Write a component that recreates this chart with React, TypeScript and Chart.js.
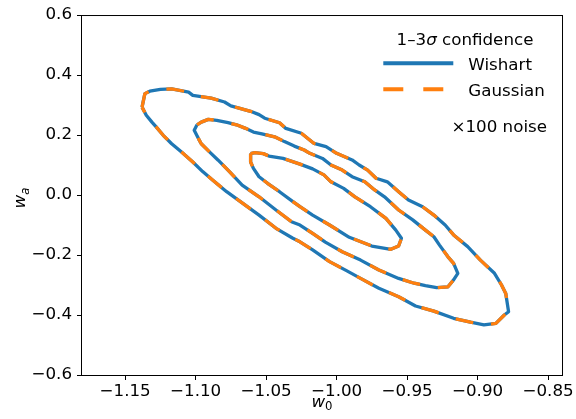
import React, { useEffect, useRef } from "react";
import { Chart, registerables } from "chart.js";

Chart.register(...registerables);

// Confidence contours in the (w0, wa) plane, traced as closed polygons.
// 1σ contour
const sigma1W0 = [-1.061, -1.058, -1.052, -1.048, -1.038, -1.026, -1.017, -1.009, -1.004, -0.995, -0.987, -0.976, -0.965, -0.958, -0.954, -0.956, -0.9615, -0.975, -0.991, -1.005, -1.017, -1.026, -1.031, -1.0405, -1.049, -1.055, -1.059, -1.061];
const sigma1Wa = [0.138, 0.141, 0.138, 0.13, 0.122, 0.103, 0.087, 0.067, 0.044, 0.022, -0.006, -0.039, -0.078, -0.117, -0.144, -0.17, -0.181, -0.17, -0.141, -0.1, -0.067, -0.039, -0.022, 0.011, 0.039, 0.061, 0.089, 0.11];

// 2σ contour
const sigma2W0 = [-1.099, -1.096, -1.091, -1.085, -1.077, -1.071, -1.065, -1.059, -1.053, -1.044, -1.037, -1.03, -1.023, -1.019, -1.01, -1.004, -0.996, -0.989, -0.98, -0.973, -0.966, -0.956, -0.946, -0.937, -0.931, -0.927, -0.921, -0.917, -0.914, -0.917, -0.921, -0.929, -0.937, -0.945, -0.956, -0.97, -0.983, -0.996, -1.008, -1.017, -1.026, -1.032, -1.043, -1.055, -1.067, -1.076, -1.084, -1.09, -1.096, -1.098, -1.101];
const sigma2Wa = [0.234, 0.243, 0.252, 0.249, 0.241, 0.234, 0.223, 0.21, 0.204, 0.194, 0.178, 0.163, 0.15, 0.139, 0.122, 0.1, 0.083, 0.061, 0.044, 0.017, -0.006, -0.05, -0.083, -0.117, -0.139, -0.167, -0.206, -0.228, -0.261, -0.283, -0.306, -0.309, -0.302, -0.294, -0.278, -0.25, -0.217, -0.189, -0.157, -0.128, -0.1, -0.089, -0.05, -0.006, 0.033, 0.078, 0.116, 0.143, 0.171, 0.188, 0.216];

// 3σ contour
const sigma3W0 = [-1.138, -1.136, -1.1325, -1.125, -1.117, -1.105, -1.102, -1.089, -1.0795, -1.075, -1.068, -1.061, -1.055, -1.051, -1.0405, -1.036, -1.025, -1.016, -1.0075, -1.0, -0.989, -0.984, -0.978, -0.972, -0.964, -0.956, -0.949, -0.939, -0.931, -0.923, -0.917, -0.907, -0.898, -0.888, -0.883, -0.88, -0.878, -0.881, -0.887, -0.8955, -0.905, -0.917, -0.931, -0.944, -0.956, -0.97, -0.983, -0.993, -1.005, -1.017, -1.026, -1.031, -1.043, -1.055, -1.0665, -1.078, -1.088, -1.095, -1.102, -1.11, -1.117, -1.123, -1.128, -1.131, -1.135];
const sigma3Wa = [0.293, 0.338, 0.346, 0.352, 0.354, 0.343, 0.332, 0.323, 0.31, 0.297, 0.288, 0.279, 0.268, 0.256, 0.241, 0.222, 0.206, 0.172, 0.161, 0.139, 0.117, 0.1, 0.083, 0.056, 0.044, 0.011, -0.017, -0.039, -0.067, -0.1, -0.133, -0.172, -0.217, -0.261, -0.3, -0.328, -0.389, -0.4, -0.428, -0.433, -0.424, -0.411, -0.387, -0.37, -0.339, -0.311, -0.278, -0.252, -0.222, -0.183, -0.156, -0.144, -0.111, -0.067, -0.028, 0.011, 0.05, 0.078, 0.11, 0.143, 0.171, 0.199, 0.227, 0.243, 0.266];

const xTicks = [-1.15, -1.1, -1.05, -1.0, -0.95, -0.9, -0.85];
const yTicks = [-0.6, -0.4, -0.2, 0.0, 0.2, 0.4, 0.6];
const xRange = [-1.1806, -0.8401];
const yRange = [-0.6, 0.6];

const seriesNames = ["Wishart", "Gaussian"];
const legendTitle = ["1–3", "σ", " confidence"];
const noiseNote = "×100 noise";

const BLUE = "#1f77b4";
const ORANGE = "#ff7f0e";
const FONT = '"DejaVu Sans"';
const FS = 16.7;

const contours = [
  { w0: sigma1W0, wa: sigma1Wa },
  { w0: sigma2W0, wa: sigma2Wa },
  { w0: sigma3W0, wa: sigma3Wa },
];

function closedPath(xs: number[], ys: number[]) {
  const pts = xs.map((x, i) => ({ x, y: ys[i] }));
  pts.push(pts[0]);
  return pts;
}

function fmt(v: number, digits: number) {
  const s = Math.abs(v) < 1e-9 ? (0).toFixed(digits) : v.toFixed(digits);
  return s.replace("-", "\u2212");
}

// Frame, axis labels with subscripts, legend and annotation
const decorations = {
  id: "decorations",
  afterDraw(chart: any) {
    const { ctx, chartArea: a } = chart;
    ctx.save();

    // full box frame
    ctx.strokeStyle = "#000";
    ctx.lineWidth = 1;
    ctx.setLineDash([]);
    ctx.strokeRect(a.left - 0.5, a.top + 0.5, a.right - a.left + 1, a.bottom - a.top);

    ctx.fillStyle = "#000";
    ctx.textBaseline = "alphabetic";

    // x axis label: w_0
    const drawMathLabel = (main: string, sub: string) => {
      ctx.font = `italic ${FS}px ${FONT}`;
      const wMain = ctx.measureText(main).width;
      ctx.font = `${sub === "a" ? "italic " : ""}${FS * 0.7}px ${FONT}`;
      const wSub = ctx.measureText(sub).width;
      const total = wMain + wSub;
      ctx.font = `italic ${FS}px ${FONT}`;
      ctx.textAlign = "left";
      ctx.fillText(main, -total / 2, 0);
      ctx.font = `${sub === "a" ? "italic " : ""}${FS * 0.7}px ${FONT}`;
      ctx.fillText(sub, -total / 2 + wMain, 3.5);
    };

    ctx.save();
    ctx.translate((a.left + a.right) / 2, 406.5);
    drawMathLabel("w", "0");
    ctx.restore();

    ctx.save();
    ctx.translate(25, (a.top + a.bottom) / 2 + 3);
    ctx.rotate(-Math.PI / 2);
    drawMathLabel("w", "a");
    ctx.restore();

    // legend title
    const titleCx = 465;
    ctx.font = `${FS}px ${FONT}`;
    const w1 = ctx.measureText(legendTitle[0]).width;
    const w3 = ctx.measureText(legendTitle[2]).width;
    ctx.font = `italic ${FS}px ${FONT}`;
    const w2 = ctx.measureText(legendTitle[1]).width;
    let tx = titleCx - (w1 + w2 + w3) / 2;
    ctx.textAlign = "left";
    ctx.font = `${FS}px ${FONT}`;
    ctx.fillText(legendTitle[0], tx, 45);
    tx += w1;
    ctx.font = `italic ${FS}px ${FONT}`;
    ctx.fillText(legendTitle[1], tx, 45);
    tx += w2;
    ctx.font = `${FS}px ${FONT}`;
    ctx.fillText(legendTitle[2], tx, 45);

    // legend entries
    const lx0 = 383.3;
    const lx1 = 453.3;
    ctx.lineWidth = 4;
    ctx.lineCap = "butt";
    ctx.strokeStyle = BLUE;
    ctx.setLineDash([]);
    ctx.beginPath();
    ctx.moveTo(lx0, 63.3);
    ctx.lineTo(lx1, 63.3);
    ctx.stroke();
    ctx.strokeStyle = ORANGE;
    ctx.setLineDash([20, 20]);
    ctx.beginPath();
    ctx.moveTo(lx0, 89.3);
    ctx.lineTo(lx1, 89.3);
    ctx.stroke();
    ctx.setLineDash([]);

    ctx.font = `${FS}px ${FONT}`;
    ctx.fillText(seriesNames[0], 468.3, 70);
    ctx.fillText(seriesNames[1], 468.3, 96);

    ctx.textAlign = "right";
    ctx.fillText(noiseNote, 547, 131.7);

    ctx.restore();
  },
};

export default function App() {
  const canvasRef = useRef<HTMLCanvasElement | null>(null);

  useEffect(() => {
    const canvas = canvasRef.current;
    if (!canvas) return;

    const datasets: any[] = [];
    contours.forEach((c, i) => {
      const pts = closedPath(c.w0, c.wa);
      datasets.push({
        label: `${seriesNames[0]} ${i + 1}σ`,
        data: pts,
        showLine: true,
        borderColor: BLUE,
        borderWidth: 3.3,
        borderJoinStyle: "round",
        pointRadius: 0,
        fill: false,
        tension: 0,
        order: 2,
      });
      datasets.push({
        label: `${seriesNames[1]} ${i + 1}σ`,
        data: closedPath(c.w0, c.wa),
        showLine: true,
        borderColor: ORANGE,
        borderWidth: 3.3,
        borderDash: [18, 18],
        borderCapStyle: "butt",
        borderJoinStyle: "round",
        pointRadius: 0,
        fill: false,
        tension: 0,
        order: 1,
      });
    });

    const tickFont = { family: FONT, size: FS };

    const chart = new Chart(canvas, {
      type: "scatter",
      data: { datasets },
      options: {
        animation: false,
        responsive: false,
        layout: { padding: { left: 0, top: 15, right: 13, bottom: 0 } },
        plugins: {
          legend: { display: false },
          tooltip: { enabled: false },
        },
        scales: {
          x: {
            type: "linear",
            min: xRange[0],
            max: xRange[1],
            afterBuildTicks: (s: any) => {
              s.ticks = xTicks.map((v) => ({ value: v }));
            },
            afterFit: (s: any) => {
              s.height = 44;
            },
            ticks: {
              callback: (v: any) => fmt(Number(v), 2),
              font: tickFont,
              color: "#000",
              padding: 2,
              maxRotation: 0,
              autoSkip: false,
            },
            grid: {
              drawOnChartArea: false,
              drawTicks: true,
              tickLength: 5,
              color: "#000",
            },
            border: { display: false },
          },
          y: {
            type: "linear",
            min: yRange[0],
            max: yRange[1],
            afterBuildTicks: (s: any) => {
              s.ticks = yTicks.map((v) => ({ value: v }));
            },
            afterFit: (s: any) => {
              s.width = 82;
            },
            ticks: {
              callback: (v: any) => fmt(Number(v), 1),
              font: tickFont,
              color: "#000",
              padding: 5,
              autoSkip: false,
            },
            grid: {
              drawOnChartArea: false,
              drawTicks: true,
              tickLength: 5,
              color: "#000",
            },
            border: { display: false },
          },
        },
      },
      plugins: [decorations],
    } as any);

    return () => chart.destroy();
  }, []);

  return (
    <div style={{ position: "absolute", left: 0, top: 0, width: 576, height: 419, background: "#fff" }}>
      <canvas ref={canvasRef} width={576} height={419} style={{ display: "block" }} />
    </div>
  );
}
